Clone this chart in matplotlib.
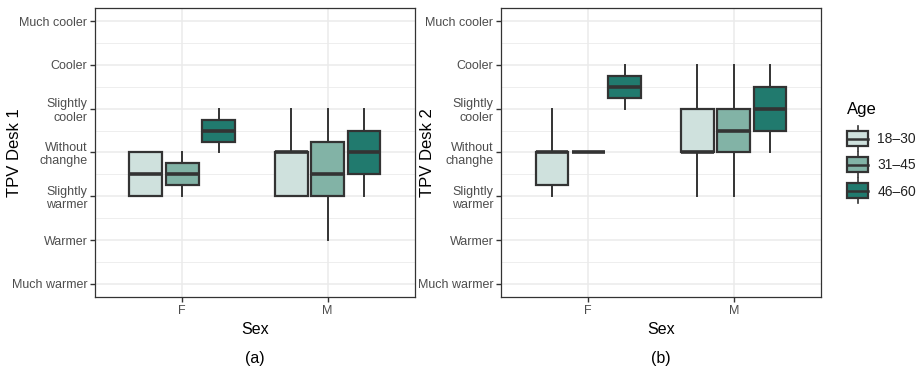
import matplotlib
matplotlib.use("Agg")
import matplotlib.pyplot as plt
from matplotlib.legend_handler import HandlerBase
from matplotlib.patches import Rectangle
from matplotlib.lines import Line2D

# response scale
y_labels = ["Much warmer", "Warmer", "Slightly\nwarmer", "Without\nchanghe",
            "Slightly\ncooler", "Cooler", "Much cooler"]
y_values = [-3, -2, -1, 0, 1, 2, 3]

sexes = ["F", "M"]
ages = ["18\u201330", "31\u201345", "46\u201360"]
colors = ["#cfe1dd", "#82b3a6", "#217a6e"]

# box stats per age group, order: F, M
# desk 1
d1_whislo = {"18\u201330": [-1, -1], "31\u201345": [-1, -2], "46\u201360": [0, -1]}
d1_q1 = {"18\u201330": [-1, -1], "31\u201345": [-0.75, -1], "46\u201360": [0.25, -0.5]}
d1_med = {"18\u201330": [-0.5, 0], "31\u201345": [-0.5, -0.5], "46\u201360": [0.5, 0]}
d1_q3 = {"18\u201330": [0, 0], "31\u201345": [-0.25, 0.25], "46\u201360": [0.75, 0.5]}
d1_whishi = {"18\u201330": [0, 1], "31\u201345": [0, 1], "46\u201360": [1, 1]}
# desk 2
d2_whislo = {"18\u201330": [-1, -1], "31\u201345": [0, -1], "46\u201360": [1, 0]}
d2_q1 = {"18\u201330": [-0.75, 0], "31\u201345": [0, 0], "46\u201360": [1.25, 0.5]}
d2_med = {"18\u201330": [0, 0], "31\u201345": [0, 0.5], "46\u201360": [1.5, 1]}
d2_q3 = {"18\u201330": [0, 1], "31\u201345": [0, 1], "46\u201360": [1.75, 1.5]}
d2_whishi = {"18\u201330": [1, 2], "31\u201345": [0, 2], "46\u201360": [2, 2]}

edge = "#333333"
txt = "#4d4d4d"
plt.rcParams["font.family"] = "Liberation Sans"


def draw_panel(ax, whislo, q1, med, q3, whishi, ylabel, ylab_x):
    for k, age in enumerate(ages):
        stats = []
        for i, s in enumerate(sexes):
            stats.append(dict(whislo=whislo[age][i], q1=q1[age][i], med=med[age][i],
                              q3=q3[age][i], whishi=whishi[age][i], fliers=[]))
        pos = [i + 1 + (k - 1) * 0.25 for i in range(len(sexes))]
        ax.bxp(stats, positions=pos, widths=0.225, patch_artist=True, showcaps=False,
               boxprops=dict(facecolor=colors[k], edgecolor=edge, linewidth=1.6),
               medianprops=dict(color=edge, linewidth=2.6, solid_capstyle="butt"),
               whiskerprops=dict(color=edge, linewidth=1.4),
               manage_ticks=False, zorder=3)
    ax.set_xlim(0.4, 2.6)
    ax.set_ylim(-3.3, 3.3)
    ax.set_xticks([1, 2])
    ax.set_xticklabels(sexes)
    ax.set_yticks(y_values)
    ax.set_yticklabels(y_labels, linespacing=1.15)
    ax.set_yticks([-2.5, -1.5, -0.5, 0.5, 1.5, 2.5], minor=True)
    ax.grid(True, which="major", color="#ebebeb", linewidth=1.1, zorder=0)
    ax.grid(True, which="minor", axis="y", color="#ebebeb", linewidth=0.6, zorder=0)
    ax.tick_params(which="minor", length=0)
    ax.tick_params(which="major", length=3.5, width=1, color=edge, labelcolor=txt,
                   labelsize=9, pad=2)
    for sp in ax.spines.values():
        sp.set_color(edge)
        sp.set_linewidth(0.9)
    ax.set_xlabel("Sex", fontsize=11.5, labelpad=4)
    ax.set_ylabel(ylabel, fontsize=12)
    ax.yaxis.set_label_coords(ylab_x, 0.5)
    ax.set_axisbelow(True)


class BoxHandler(HandlerBase):
    # ggplot-style boxplot key
    def create_artists(self, legend, orig, xd, yd, w, h, fontsize, trans):
        cx = xd + w / 2
        cy = yd + h / 2
        bh = fontsize * 1.1
        r = Rectangle((xd, cy - bh / 2), w, bh,
                      facecolor=orig.get_facecolor(), edgecolor=edge, linewidth=1.6,
                      transform=trans)
        m = Line2D([xd, xd + w], [cy, cy], color=edge, linewidth=1.8, transform=trans)
        wl = Line2D([cx, cx], [cy - bh * 0.8, cy + bh * 0.8], color=edge,
                    linewidth=1.2, transform=trans)
        return [wl, r, m]


fig = plt.figure(figsize=(9.21, 3.74), dpi=100)
ax1 = fig.add_axes([0.1031, 0.2059, 0.3474, 0.7727])
ax2 = fig.add_axes([0.5440, 0.2059, 0.3474, 0.7727])
draw_panel(ax1, d1_whislo, d1_q1, d1_med, d1_q3, d1_whishi, "TPV Desk 1", -0.228)
draw_panel(ax2, d2_whislo, d2_q1, d2_med, d2_q3, d2_whishi, "TPV Desk 2", -0.206)

fig.text(0.1031 + 0.3474 / 2, 0.03, "(a)", ha="center", fontsize=11.5)
fig.text(0.5440 + 0.3474 / 2, 0.03, "(b)", ha="center", fontsize=11.5)

handles = [Rectangle((0, 0), 1, 1, facecolor=c) for c in colors]
leg = fig.legend(handles, ages, title="Age", loc="center left",
                 bbox_to_anchor=(0.92, 0.598), frameon=False, fontsize=10,
                 title_fontsize=12, handler_map={Rectangle: BoxHandler()},
                 handlelength=1.5, handleheight=0.7, labelspacing=0.87,
                 handletextpad=0.65, borderaxespad=0, borderpad=0)
leg._legend_box.align = "left"
leg._legend_box.sep = 11
for t in leg.get_texts():
    t.set_color("#222222")

fig.savefig("out.png", dpi=100)
